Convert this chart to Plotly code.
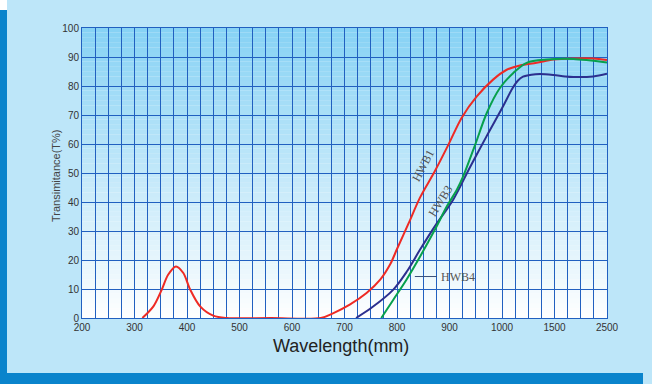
import numpy as np
import plotly.graph_objects as go

# ---------------- data ----------------
TICK_NM = [200, 300, 400, 500, 600, 700, 800, 900, 1000, 1500, 2500]
TICK_TEXT = [str(v) for v in TICK_NM]

HWB1_NM = [315, 336, 352, 364, 379, 393, 406, 425, 450, 476, 560, 655, 679, 710, 742,
           768, 787, 800, 822, 844, 872, 898, 923, 952, 983, 1045, 1171, 1330, 1488,
           1858, 2239, 2500]
HWB1_T = [0, 4, 9.8, 14.9, 17.8, 15.5, 9.8, 4, 0.8, 0, 0, 0, 1.7, 4.6, 8.6,
          13.2, 18.5, 23.8, 32.6, 41.6, 50.6, 59.8, 69.0, 76.4, 82.2, 85.6, 87.1, 88, 89.1,
          89.5, 89.5, 89]

HWB3_NM = [722, 752, 793, 819, 844, 872, 907, 939, 971, 1000, 1100, 1150, 1200, 1280,
           1362, 1488, 1700, 1858, 2239, 2500]
HWB3_T = [0, 3.6, 9.8, 16.1, 23.6, 31.6, 40.8, 52.0, 62.8, 72.3, 79.2, 81.8, 83.2, 83.9,
          84.1, 83.8, 83.3, 83.1, 83.3, 84.2]

HWB4_NM = [770, 793, 818, 844, 872, 895, 914, 926, 949, 971, 996, 1108, 1235, 1426,
           1858, 2500]
HWB4_T = [0, 6.3, 13.2, 21.2, 30.4, 38.5, 44.2, 48.8, 59.8, 70.7, 79.3, 84.5, 88, 89.1,
          89.3, 88.1]

LABELS = ["HWB1", "HWB3", "HWB4"]
LABEL_NM = [849, 883, 917]
LABEL_T = [52.5, 40.2, 14.3]

# ---------------- helpers ----------------
TICK_POS = list(range(len(TICK_NM)))


def to_pos(nm):
    return np.interp(np.asarray(nm, dtype=float), TICK_NM, TICK_POS)


W, H = 652, 384
ML, MR, MT, MB = 82, 45, 28, 66
PW, PH = W - ML - MR, H - MT - MB


def px(x):
    return (x - ML) / PW


def py(y):
    return (H - MB - y) / PH


GRID = "#2160c0"
fig = go.Figure()

series = [
    ("HWB1", HWB1_NM, HWB1_T, "#ee2a24"),
    ("HWB3", HWB3_NM, HWB3_T, "#2c2f8e"),
    ("HWB4", HWB4_NM, HWB4_T, "#07a04c"),
]
for name, nm, t, c in series:
    fig.add_trace(go.Scatter(
        x=to_pos(nm), y=t, mode="lines", name=name,
        line=dict(color=c, width=2, shape="spline", smoothing=0.9),
        showlegend=False, hoverinfo="skip",
    ))

shapes = []
# vertical gradient of the plot background
top = np.array([0x86, 0xd2, 0xf5])
bot = np.array([0xff, 0xff, 0xff])
N = 60
for i in range(N):
    f = (i + 0.5) / N
    c = bot + (top - bot) * f
    shapes.append(dict(type="rect", xref="paper", yref="y", x0=0, x1=1,
                       y0=100 * i / N, y1=100 * (i + 1) / N + 0.05,
                       fillcolor="rgb(%d,%d,%d)" % tuple(c.astype(int)),
                       line=dict(width=0), layer="below"))
# frame bars
DARK = "#0a84cc"
shapes.append(dict(type="rect", xref="paper", yref="paper", x0=px(0), x1=px(7),
                   y0=py(384), y1=py(10), fillcolor=DARK, line=dict(width=0), layer="below"))
shapes.append(dict(type="rect", xref="paper", yref="paper", x0=px(0), x1=px(643),
                   y0=py(384), y1=py(373), fillcolor=DARK, line=dict(width=0), layer="below"))
shapes.append(dict(type="rect", xref="paper", yref="paper", x0=px(0), x1=px(7),
                   y0=py(10), y1=py(0), fillcolor="#ffffff", line=dict(width=0), layer="below"))
# leader line for HWB4
lx0, lx1 = to_pos([834, 876])
shapes.append(dict(type="line", xref="x", yref="y", x0=lx0, x1=lx1, y0=LABEL_T[2], y1=LABEL_T[2],
                   line=dict(color="#3a4f7a", width=1), layer="above"))

annotations = []
angles = [-62, -58, 0]
lpos = to_pos(LABEL_NM)
for txt, x, y, a in zip(LABELS, lpos, LABEL_T, angles):
    annotations.append(dict(x=x, y=y, xref="x", yref="y", text=txt, showarrow=False,
                            xanchor="center", yanchor="middle", textangle=a,
                            font=dict(family="Liberation Serif", size=12, color="#555555")))
annotations.append(dict(x=px(341), y=py(346), xref="paper", yref="paper", text="Wavelength(mm)",
                        xanchor="center", yanchor="middle", showarrow=False,
                        font=dict(family="Liberation Sans", size=18, color="#222222")))
annotations.append(dict(x=px(56), y=py(176), xref="paper", yref="paper", text="Transimitance(T%)",
                        xanchor="center", yanchor="middle", textangle=-90, showarrow=False,
                        font=dict(family="Liberation Sans", size=11, color="#444444")))

fig.update_layout(
    width=W, height=H, autosize=False,
    margin=dict(l=ML, r=MR, t=MT, b=MB),
    paper_bgcolor="#bde6f9", plot_bgcolor="#ffffff",
    shapes=shapes, annotations=annotations,
    font=dict(family="Liberation Sans", size=10, color="#333333"),
    xaxis=dict(range=[0, 10], tickmode="array", tickvals=TICK_POS, ticktext=TICK_TEXT,
               showgrid=True, gridcolor=GRID, gridwidth=1, zeroline=False,
               showline=True, mirror=True, linecolor=GRID, linewidth=1, ticks="",
               minor=dict(tickmode="linear", tick0=0, dtick=0.25, showgrid=True,
                          gridcolor=GRID, gridwidth=1),
               tickfont=dict(size=10, color="#333333"), fixedrange=True),
    yaxis=dict(range=[0, 100], tickmode="linear", tick0=0, dtick=10,
               showgrid=True, gridcolor=GRID, gridwidth=1, zeroline=False,
               showline=True, mirror=True, linecolor=GRID, linewidth=1, ticks="",
               tickfont=dict(size=10, color="#333333"), fixedrange=True),
)

fig.write_html("out.html", config={"displayModeBar": False},
               post_script="document.body.style.margin='0';document.body.style.overflow='hidden';")
